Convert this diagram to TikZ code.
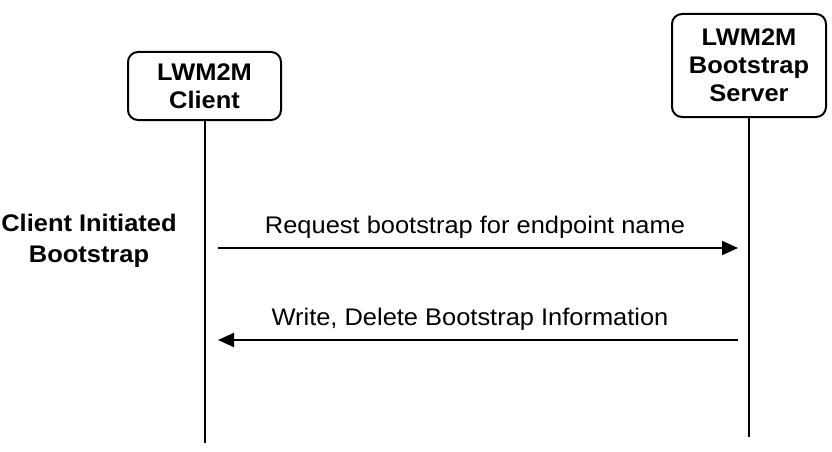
\documentclass[tikz,border=0pt]{standalone}
\usepackage{fontspec}
\setmainfont{Liberation Sans}[FakeStretch=1.06]
\usetikzlibrary{arrows.meta}
\tikzset{
  actorbox/.style={draw=black, line width=2pt, rounded corners=10pt, align=center,
    font=\fontsize{24}{28}\selectfont\bfseries, inner sep=0pt},
  lifeline/.style={draw=black, line width=2pt},
  msg/.style={draw=black, line width=2pt, -{Triangle[length=16pt,width=14pt]}},
  msglabel/.style={font=\fontsize{24}{28}\selectfont, anchor=base, inner sep=0pt},
  phase/.style={font=\fontsize{24}{31}\selectfont\bfseries, align=center, inner sep=0pt}
}
\begin{document}
\begin{tikzpicture}[x=1pt,y=-1pt]
\useasboundingbox (0,0) rectangle (832,452);
\node[actorbox, minimum width=153pt, minimum height=68pt] (client) at (204.5,86) {LWM2M\\Client};
\node[actorbox, minimum width=154pt, minimum height=103pt] (server) at (749,65.5) {LWM2M\\Bootstrap\\Server};
\coordinate (cend) at (204.5,443);
\coordinate (send) at (749,437);
\draw[lifeline] (client.south) -- (cend);
\draw[lifeline] (server.south) -- (send);
\node[phase] (phase) at (89,241) {Client Initiated\\Bootstrap};
\coordinate (m1s) at (218,248);
\coordinate (m1e) at (738,248);
\coordinate (m2s) at (738,340);
\coordinate (m2e) at (218,340);
\draw[msg] (m1s) -- (m1e);
\draw[msg] (m2s) -- (m2e);
\node[msglabel] (l1) at (475,233) {Request bootstrap for endpoint name};
\node[msglabel] (l2) at (470,325) {Write, Delete Bootstrap Information};
\end{tikzpicture}
\end{document}
